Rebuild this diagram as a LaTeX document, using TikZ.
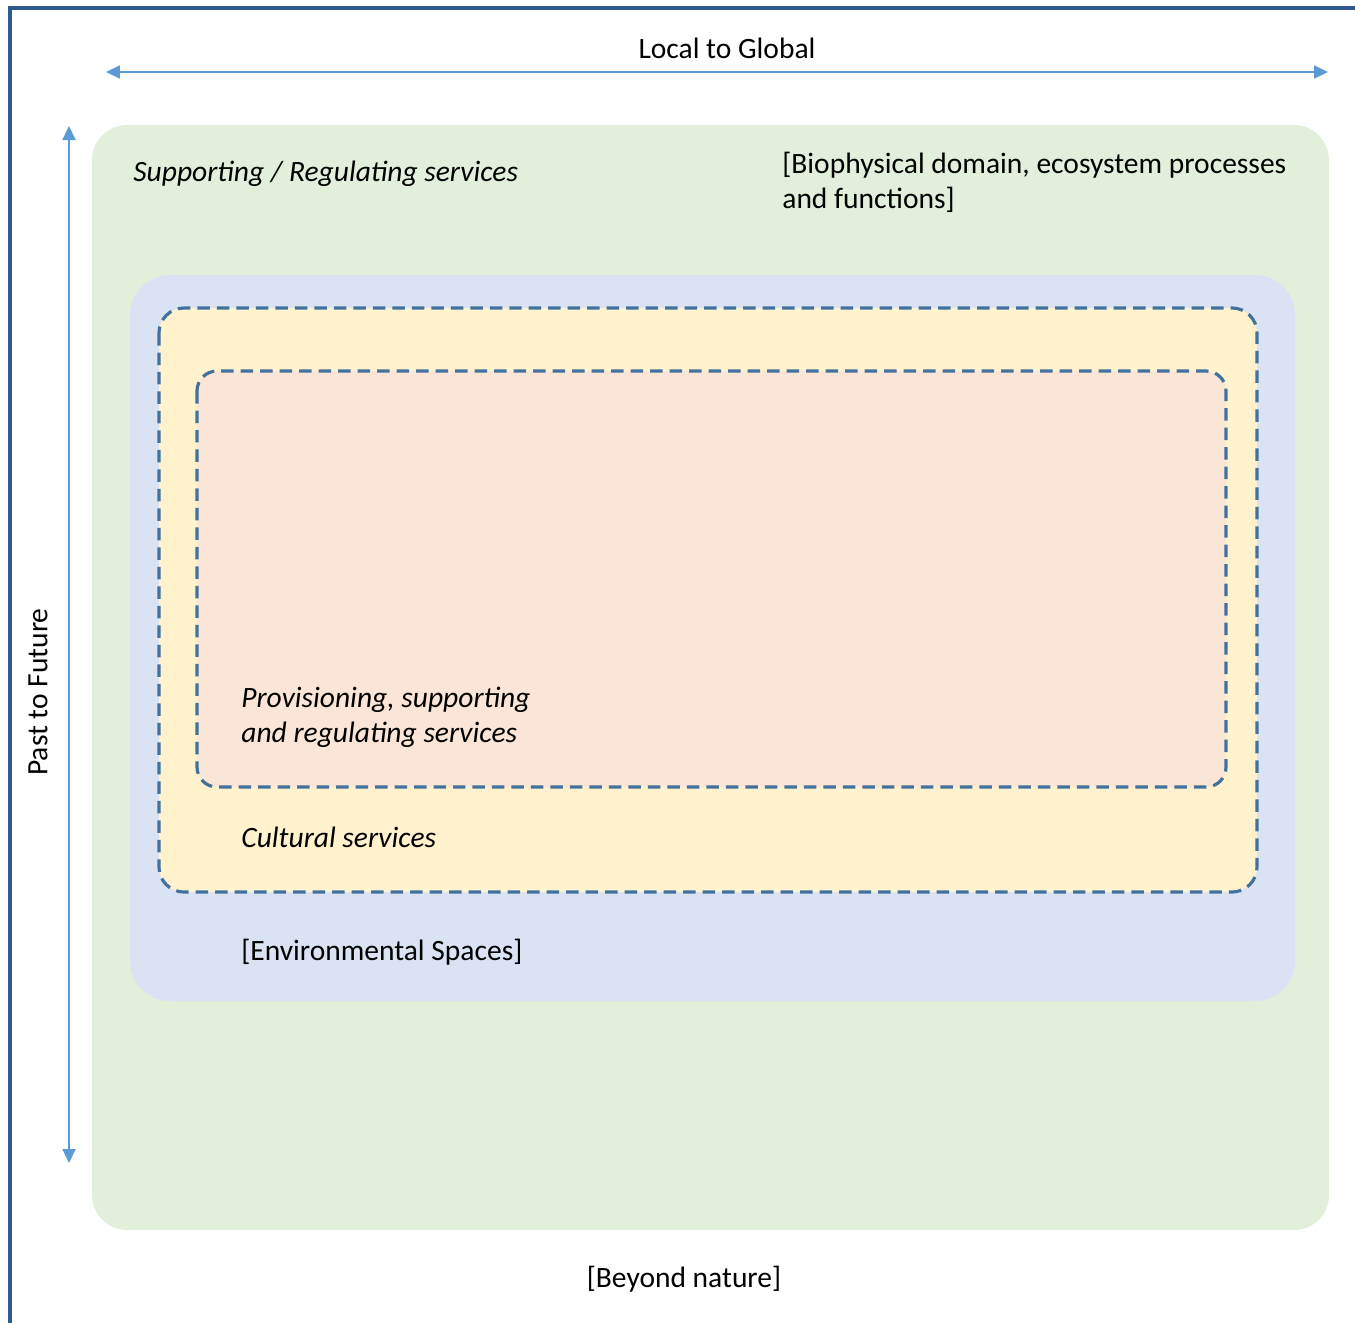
\documentclass[tikz,border=0pt]{standalone}
\usepackage{fontspec}
\setmainfont{Carlito}
\usetikzlibrary{arrows.meta}

\definecolor{framecol}{HTML}{2F5A8A}
\definecolor{arrowcol}{HTML}{5B9BD5}
\definecolor{dashcol}{HTML}{41719C}
\definecolor{greenbg}{HTML}{E2EFDA}
\definecolor{bluebg}{HTML}{DAE3F3}
\definecolor{yellowbg}{HTML}{FFF2CC}
\definecolor{peachbg}{HTML}{FBE5D6}

\tikzset{
  label text/.style={inner sep=0pt, font=\fontsize{16.8}{20}\selectfont, align=left},
  axis arrow/.style={arrowcol, line width=1.2pt, {Triangle[length=0.28cm,width=0.26cm]}-{Triangle[length=0.28cm,width=0.26cm]}},
  dash line/.style={draw=dashcol, line width=1.8pt, dash pattern=on 0.25cm off 0.14cm}
}

\begin{document}
\begin{tikzpicture}[x=0.02cm, y=-0.02cm]
        \useasboundingbox (0,0) rectangle (1355,1323);

        % outer frame (only top and left show)
        \draw[framecol, line width=2pt] (10,1323) -- (10,8) -- (1355,8);

        % nested regions
        \fill[greenbg, rounded corners=0.7cm] (92,125) rectangle (1329,1230);
        \fill[bluebg, rounded corners=0.8cm] (130,275) rectangle (1295,1001);
        \filldraw[dash line, fill=yellowbg, rounded corners=0.5cm] (159,308) rectangle (1257,892);
        \filldraw[dash line, fill=peachbg, rounded corners=0.4cm] (197,371) rectangle (1226,787);

        % axes
        \coordinate (west) at (106,72);
        \coordinate (east) at (1328,72);
        \coordinate (past) at (69,1163);
        \coordinate (future) at (69,126);
        \draw[axis arrow] (west) -- (east);
        \draw[axis arrow] (past) -- (future);

        \node[label text] (scale) at (727,48) {Local to Global};
        \node[label text, rotate=90] (time) at (38,692) {Past to Future};

        % labels
        \node[label text, anchor=west] (supreg) at (133,174) {\itshape Supporting / Regulating services};
        \node[label text, anchor=north west] (bio) at (782,152) {[Biophysical domain, ecosystem processes\\and functions]};
        \node[label text, anchor=north west] (prov) at (241,687) {\itshape Provisioning, supporting\\\itshape and regulating services};
        \node[label text, anchor=west] (cult) at (241,837) {\itshape Cultural services};
        \node[label text, anchor=west] (env) at (241,952) {[Environmental Spaces]};
        \node[label text] (beyond) at (684,1279) {[Beyond nature]};
    \end{tikzpicture}
\end{document}
